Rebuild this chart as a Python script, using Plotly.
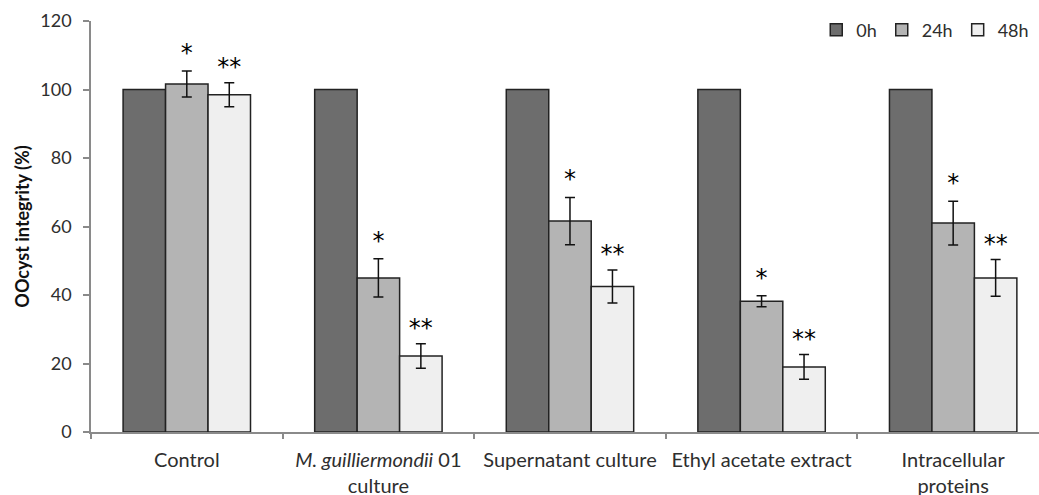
import plotly.graph_objects as go

# Treatment groups (category labels on the x axis)
categories = [
    "Control",
    "<i>M. guilliermondii</i> 01<br>culture",
    "Supernatant culture",
    "Ethyl acetate extract",
    "Intracellular<br>proteins",
]

# Oocyst integrity (%) at each time point
integrity_0h = [100, 100, 100, 100, 100]
integrity_24h = [101.6, 45.0, 61.6, 38.2, 61.0]
integrity_48h = [98.5, 22.2, 42.5, 19.0, 45.0]

# Standard deviations
sd_0h = [0, 0, 0, 0, 0]
sd_24h = [3.8, 5.6, 6.9, 1.6, 6.4]
sd_48h = [3.5, 3.6, 4.8, 3.6, 5.4]

# Significance marks
sig_24h = ["*", "*", "*", "*", "*"]
sig_48h = ["**", "**", "**", "**", "**"]

# (name, values, sd, fill colour, marks, spacer size above the error bar)
series = [
    ("0h", integrity_0h, sd_0h, "#6d6d6d", None, 1),
    ("24h", integrity_24h, sd_24h, "#b4b4b4", sig_24h, 5),
    ("48h", integrity_48h, sd_48h, "#efefef", sig_48h, 1),
]

FONT = "Lato, 'Open Sans', sans-serif"
TEXT_COLOR = "#2e2e2e"
AXIS_COLOR = "#8a8a8a"

fig = go.Figure()

for name, vals, sd, color, sig, pad in series:
    fig.add_trace(go.Bar(
        name=name,
        x=categories,
        y=vals,
        offsetgroup=name,
        marker=dict(color=color, line=dict(color="#222222", width=1.5)),
        error_y=dict(
            type="data",
            array=sd,
            visible=any(v > 0 for v in sd),
            color="#111111",
            thickness=1.5,
            width=5,
        ),
    ))

# Asterisks above each error bar, grouped to line up with the bars;
# an invisible marker keeps a little space between bar cap and text
for name, vals, sd, color, sig, pad in series:
    tops = [v + e for v, e in zip(vals, sd)]
    fig.add_trace(go.Scatter(
        x=categories,
        y=tops,
        mode="markers+text",
        marker=dict(size=pad, color="rgba(0,0,0,0)"),
        text=sig if sig else [""] * len(vals),
        textposition="top center",
        textfont=dict(family="DejaVu Sans, sans-serif", size=24, color="#000000"),
        offsetgroup=name,
        showlegend=False,
        hoverinfo="skip",
        cliponaxis=False,
    ))

fig.update_layout(
    width=1039,
    height=495,
    margin=dict(l=91, r=0, t=21, b=63),
    paper_bgcolor="white",
    plot_bgcolor="white",
    barmode="group",
    bargap=0.335,
    bargroupgap=0,
    scattermode="group",
    scattergap=0.335,
    font=dict(family=FONT, size=18, color=TEXT_COLOR),
    showlegend=True,
    legend=dict(
        orientation="h",
        x=0.995,
        xanchor="right",
        y=0.978,
        yanchor="middle",
        font=dict(family=FONT, size=18, color=TEXT_COLOR),
        itemwidth=30,
        tracegroupgap=0,
        bgcolor="rgba(0,0,0,0)",
    ),
    xaxis=dict(
        type="category",
        range=[-0.5, 4.448],
        automargin=False,
        showline=True,
        linecolor=AXIS_COLOR,
        linewidth=1.5,
        ticks="outside",
        tickson="boundaries",
        ticklen=5,
        tickcolor=AXIS_COLOR,
        tickwidth=1.5,
        showgrid=False,
        tickfont=dict(family=FONT, size=20, color=TEXT_COLOR),
        ticklabelstandoff=9,
    ),
    yaxis=dict(
        range=[0, 120],
        dtick=20,
        automargin=False,
        showline=True,
        linecolor=AXIS_COLOR,
        linewidth=1.5,
        ticks="outside",
        ticklen=6,
        tickcolor=AXIS_COLOR,
        tickwidth=1.5,
        showgrid=False,
        zeroline=False,
        tickfont=dict(family=FONT, size=18, color=TEXT_COLOR),
        ticklabelstandoff=8,
        title=dict(
            text="<b>OOcyst integrity (%)</b>",
            font=dict(family=FONT, size=18, color="#111111"),
            standoff=6,
        ),
    ),
)

fig.write_html("out.html")
